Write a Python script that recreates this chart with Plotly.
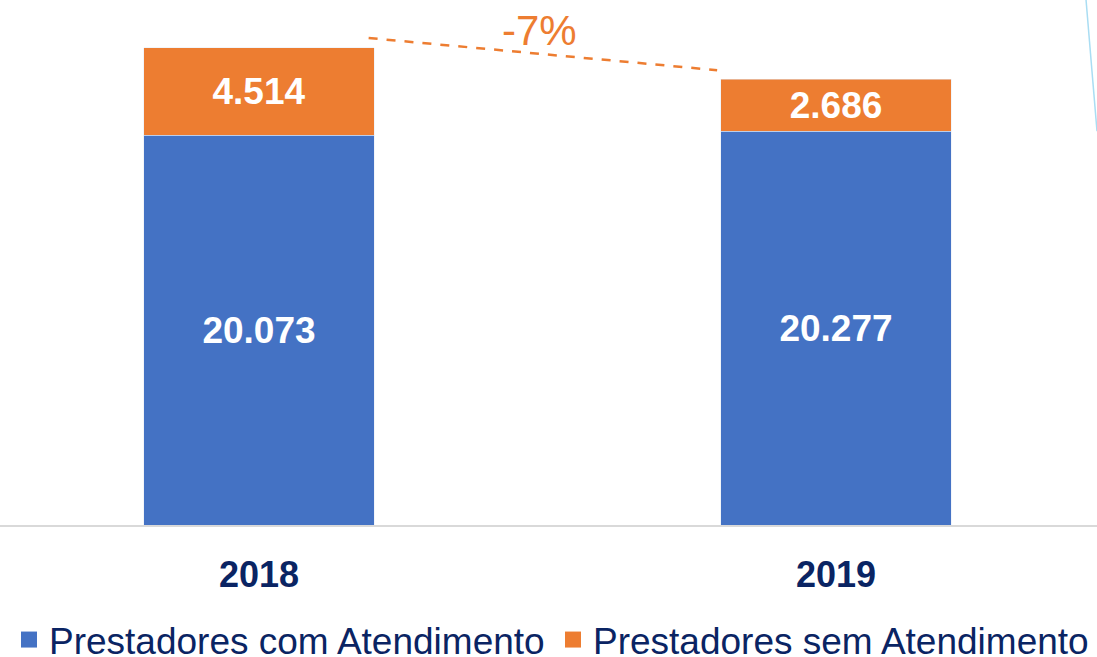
import plotly.graph_objects as go

# ---- data ----
years = ["2018", "2019"]
com_atendimento = [20073, 20277]
sem_atendimento = [4514, 2686]
series_names = ["Prestadores com Atendimento", "Prestadores sem Atendimento"]

# ---- style ----
BLUE = "#4472C4"
ORANGE = "#ED7D31"
NAVY = "#0A2463"
FONT = "Liberation Sans, Arial, sans-serif"
BAR_WIDTH = 0.4

xs = list(range(len(years)))
totals = [a + b for a, b in zip(com_atendimento, sem_atendimento)]
change = round((totals[1] / totals[0] - 1) * 100)

fig = go.Figure()
for vals, name, col in [(com_atendimento, series_names[0], BLUE),
                        (sem_atendimento, series_names[1], ORANGE)]:
    fig.add_trace(go.Bar(
        x=xs, y=vals, name=name, marker_color=col, showlegend=False,
        width=BAR_WIDTH, texttemplate="%{y:,.0f}", textposition="inside",
        insidetextanchor="middle", textangle=0,
        textfont=dict(family=FONT, size=37, color="white", weight="bold"),
    ))
# legend entries with larger square swatches
for name, col in [(series_names[0], BLUE), (series_names[1], ORANGE)]:
    fig.add_trace(go.Scatter(
        x=[None], y=[None], mode="markers", name=name,
        marker=dict(symbol="square", size=20, color=col),
    ))

# dashed trend line between totals
lx = [xs[0] + BAR_WIDTH / 2 - 0.01, xs[1] - BAR_WIDTH / 2 - 0.006]
ly = [totals[0] * 1.02, totals[1] * 1.02]
fig.add_trace(go.Scatter(
    x=lx, y=ly, mode="lines", showlegend=False, hoverinfo="skip",
    line=dict(color=ORANGE, width=2.5, dash="dash"),
))
fig.add_annotation(
    x=(lx[0] + lx[1]) / 2, y=(ly[0] + ly[1]) / 2, text=f"{change}%",
    showarrow=False, yanchor="middle", yshift=24, xshift=-3,
    font=dict(family=FONT, size=42, color=ORANGE),
)

# decorative light-blue stroke at right edge
fig.add_shape(type="line", xref="paper", yref="paper",
              x0=0.990, y0=1.0, x1=1.0, y1=0.75,
              line=dict(color="#A9DDF3", width=1.5))

UNITS_PER_PX = 51.5
PLOT_H = 525
fig.update_layout(
    width=1097, height=657,
    margin=dict(l=0, r=0, t=0, b=657 - PLOT_H),
    barmode="stack",
    separators=",.",
    plot_bgcolor="white", paper_bgcolor="white",
    showlegend=True,
    legend=dict(orientation="h", x=12 / 1097, xanchor="left", yref="container",
                y=17 / 657, yanchor="middle", traceorder="normal",
                entrywidth=499, entrywidthmode="pixels",
                font=dict(family=FONT, size=37, color=NAVY),
                itemclick=False, bgcolor="rgba(0,0,0,0)"),
    xaxis=dict(range=[-259 / 577, -259 / 577 + 1097 / 577],
               tickvals=xs, ticktext=years, showgrid=False, zeroline=False,
               showline=True, linecolor="#D9D9D9", linewidth=1.5, ticks="",
               ticklabelstandoff=17,
               tickfont=dict(family=FONT, size=36, color=NAVY, weight="bold")),
    yaxis=dict(range=[0, PLOT_H * UNITS_PER_PX], visible=False,
               showgrid=False, zeroline=False),
)

fig.write_html("out.html", config={"displayModeBar": False},
               post_script="document.body.style.margin='0';document.body.style.overflow='hidden';")
